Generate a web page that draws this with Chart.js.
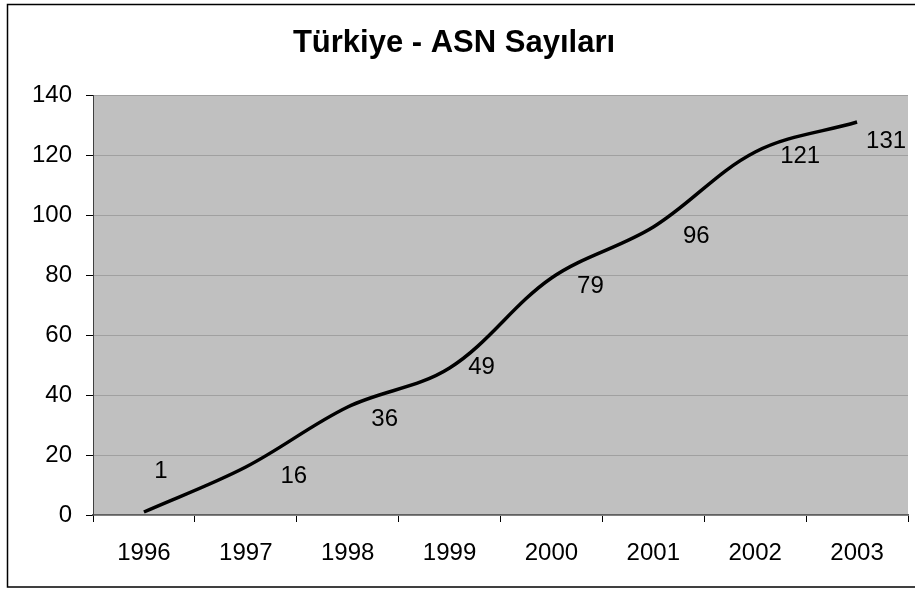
<!DOCTYPE html>
<html>
<head>
<meta charset="utf-8">
<script src="https://cdn.jsdelivr.net/npm/chart.js@4"></script>
<style>
  body { margin: 0; background: #fff; }
  #asnChart { display: block; }
</style>
</head>
<body>
<canvas id="asnChart" width="915" height="590"></canvas>
<script>
const years = ['1996', '1997', '1998', '1999', '2000', '2001', '2002', '2003'];
const asnCounts = [1, 16, 36, 49, 79, 96, 121, 131];
const yTicks = [0, 20, 40, 60, 80, 100, 120, 140];

// label nudges (px) so the numbers sit where Excel put them
const labelOffsets = [[17, -41], [48, 9], [37, 12], [32, -1], [39, 8], [43, 9], [45, 4], [29, 19]];

const FONT = '"Liberation Sans", Arial, sans-serif';

const frameAndBackground = {
  id: 'frameAndBackground',
  beforeDraw(chart) {
    const { ctx, chartArea } = chart;
    ctx.save();
    ctx.fillStyle = '#fff';
    ctx.fillRect(0, 0, chart.width, chart.height);
    ctx.strokeStyle = '#000';
    ctx.lineWidth = 1.5;
    ctx.strokeRect(7.5, 4.5, 920, 582.5);
    ctx.fillStyle = '#c0c0c0';
    ctx.fillRect(chartArea.left, chartArea.top, chartArea.right - chartArea.left, chartArea.bottom - chartArea.top);
    ctx.restore();
  }
};

const valueLabels = {
  id: 'valueLabels',
  afterDatasetsDraw(chart) {
    const { ctx } = chart;
    const meta = chart.getDatasetMeta(0);
    ctx.save();
    ctx.font = '24px ' + FONT;
    ctx.fillStyle = '#000';
    ctx.textAlign = 'center';
    ctx.textBaseline = 'middle';
    meta.data.forEach((pt, i) => {
      const off = labelOffsets[i] || [0, 0];
      ctx.fillText(String(asnCounts[i]), pt.x + off[0], pt.y + off[1]);
    });
    ctx.restore();
  }
};

new Chart('asnChart', {
  type: 'line',
  data: {
    labels: years,
    datasets: [{
      label: 'ASN',
      data: asnCounts,
      borderColor: '#000',
      borderWidth: 3.5,
      tension: 0.35,
      pointRadius: 0,
      fill: false
    }]
  },
  options: {
    responsive: false,
    animation: false,
    layout: {
      padding: { left: 0, right: 7, top: 0, bottom: 0 }
    },
    plugins: {
      legend: { display: false },
      tooltip: { enabled: false },
      title: {
        display: true,
        text: 'Türkiye - ASN Sayıları',
        color: '#000',
        font: { family: FONT, size: 31, weight: 'bold' },
        padding: { top: 24.5, bottom: 33.3 }
      }
    },
    scales: {
      x: {
        type: 'category',
        offset: true,
        afterFit(scale) { scale.height = 75; },
        grid: {
          offset: true,
          drawOnChartArea: false,
          drawTicks: true,
          tickLength: 7,
          tickColor: '#000'
        },
        border: { display: true, color: '#606060', width: 1.5 },
        ticks: {
          color: '#000',
          font: { family: FONT, size: 24 },
          padding: 17,
          maxRotation: 0
        }
      },
      y: {
        min: 0,
        max: 140,
        afterFit(scale) { scale.width = 93; },
        afterBuildTicks(scale) { scale.ticks = yTicks.map(v => ({ value: v })); },
        grid: {
          color: '#a0a0a0',
          lineWidth: 1,
          tickLength: 7,
          tickColor: '#000'
        },
        border: { display: true, color: '#404040', width: 1 },
        ticks: {
          color: '#000',
          font: { family: FONT, size: 24 },
          padding: 14
        }
      }
    }
  },
  plugins: [frameAndBackground, valueLabels]
});
</script>
</body>
</html>
